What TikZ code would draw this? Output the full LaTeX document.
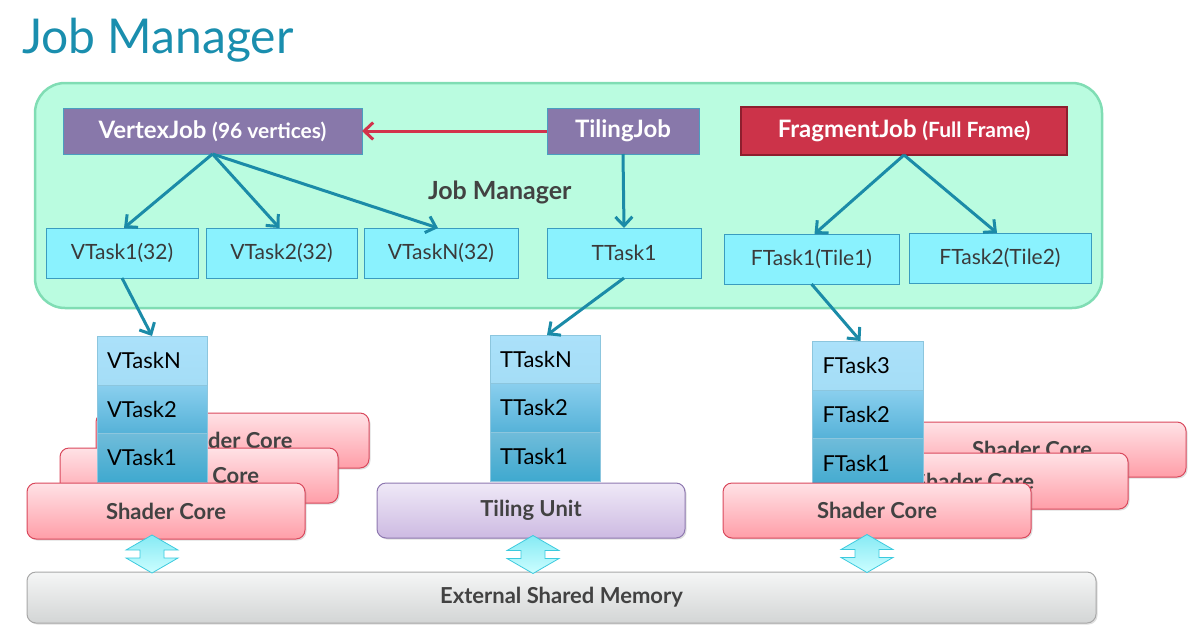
\documentclass[tikz,border=0pt]{standalone}
\usepackage{fontspec}
\setmainfont{Lato}
\usetikzlibrary{arrows.meta,shadows}

\definecolor{titleC}{HTML}{1A8EAE}
\definecolor{greenFill}{HTML}{BAFCE0}
\definecolor{greenBorder}{HTML}{80DDB4}
\definecolor{jobPurple}{HTML}{8878AA}
\definecolor{jobBorder}{HTML}{4A9EC0}
\definecolor{fragRed}{HTML}{CC3349}
\definecolor{fragBorder}{HTML}{8E1E2E}
\definecolor{taskCyan}{HTML}{8AF2FE}
\definecolor{taskBorder}{HTML}{3A9CC0}
\definecolor{taskText}{HTML}{3A3A3A}
\definecolor{labelGray}{HTML}{424242}
\definecolor{flowC}{HTML}{1B8BA8}
\definecolor{redFlow}{HTML}{D2334C}
\definecolor{coreTop}{HTML}{FFE2E6}
\definecolor{coreBot}{HTML}{FF9EA8}
\definecolor{coreBorder}{HTML}{D9485C}
\definecolor{tuTop}{HTML}{EFE9F7}
\definecolor{tuBot}{HTML}{CDBAE2}
\definecolor{tuBorder}{HTML}{8E78B0}
\definecolor{memTop}{HTML}{F5F6F6}
\definecolor{memBot}{HTML}{D3D5D5}
\definecolor{memBorder}{HTML}{A8A8A8}
\definecolor{cellA}{HTML}{ABE1FA}
\definecolor{cellAb}{HTML}{A4DDF6}
\definecolor{cellBt}{HTML}{8ACFEE}
\definecolor{cellBb}{HTML}{56B2D8}
\definecolor{cellCt}{HTML}{70BCDA}
\definecolor{cellCb}{HTML}{3FA9CF}
\definecolor{cellBorder}{HTML}{8CC6DE}
\definecolor{daTop}{HTML}{86EAF4}
\definecolor{daBot}{HTML}{CCFEFF}
\definecolor{daBorder}{HTML}{3CCADE}

\begin{document}
\begin{tikzpicture}[x=1pt,y=-1pt,
  base/.style={inner sep=0pt, outer sep=0pt},
  jobbox/.style={base, fill=jobPurple, draw=jobBorder, line width=0.8pt, text=white, font=\bfseries\fontsize{24}{26}\selectfont},
  taskbox/.style={base, fill=taskCyan, draw=taskBorder, line width=0.8pt, text=taskText, font=\fontsize{21}{23}\selectfont},
  core/.style={base, rounded corners=9pt, top color=coreTop, bottom color=coreBot, draw=coreBorder, line width=1pt, text=labelGray, font=\bfseries\fontsize{22}{24}\selectfont, drop shadow={opacity=0.25, shadow xshift=1.5pt, shadow yshift=-1.5pt}},
  unitbox/.style={base, rounded corners=9pt, top color=tuTop, bottom color=tuBot, draw=tuBorder, line width=1pt, text=labelGray, font=\bfseries\fontsize{22}{24}\selectfont, drop shadow={opacity=0.25, shadow xshift=1.5pt, shadow yshift=-1.5pt}},
  membox/.style={base, rounded corners=9pt, top color=memTop, bottom color=memBot, draw=memBorder, line width=1pt, text=labelGray, font=\bfseries\fontsize{22}{24}\selectfont, drop shadow={opacity=0.25, shadow xshift=1.5pt, shadow yshift=-1.5pt}},
  cell/.style={base, draw=cellBorder, line width=0.6pt, minimum width=110pt, text width=90pt, align=left, text=black, font=\fontsize{22}{24}\selectfont},
  cellN/.style={cell, top color=cellA, bottom color=cellAb},
  cellM/.style={cell, top color=cellBt, bottom color=cellBb},
  cellL/.style={cell, top color=cellCt, bottom color=cellCb},
  flow/.style={draw=flowC, line width=3pt, -{Straight Barb[length=9pt,width=17pt]}},
  redflow/.style={draw=redFlow, line width=3pt, -{Straight Barb[length=9pt,width=17pt]}},
  dblarrow/.style={top color=daTop, bottom color=daBot, draw=daBorder, line width=0.8pt, line join=miter}
]
\useasboundingbox (0,0) rectangle (1193,632);

% title
\node[base, anchor=base west, text=titleC, font=\fontsize{48}{52}\selectfont] (title) at (22,53) {Job Manager};

% job manager container
\node[base, draw=greenBorder, fill=greenFill, line width=2.5pt, rounded corners=30pt, minimum width=1067pt, minimum height=225pt] (jm) at (568.5,195.5) {};

% jobs
\node[jobbox, minimum width=299pt, minimum height=46pt] (vj) at (212.5,131) {VertexJob {\fontsize{21}{23}\selectfont (96 vertices)}};
\node[jobbox, minimum width=152pt, minimum height=46pt] (tj) at (623,131) {TilingJob};
\node[jobbox, fill=fragRed, draw=fragBorder, line width=1.2pt, minimum width=326pt, minimum height=48pt] (fj) at (904,131) {FragmentJob {\fontsize{21}{23}\selectfont (Full Frame)}};

\node[base, anchor=base west, text=labelGray, font=\bfseries\fontsize{25}{27}\selectfont] (jml) at (428,199) {Job Manager};

% tasks
\node[taskbox, minimum width=152pt, minimum height=50pt] (vt1) at (122,253) {VTask1(32)};
\node[taskbox, minimum width=151pt, minimum height=50pt] (vt2) at (281.5,253) {VTask2(32)};
\node[taskbox, minimum width=154pt, minimum height=50pt] (vtn) at (441,253) {VTaskN(32)};
\node[taskbox, minimum width=154pt, minimum height=50pt] (tt1) at (624,253) {TTask1};
\node[taskbox, minimum width=175pt, minimum height=50pt] (ft1) at (811.5,259) {FTask1(Tile1)};
\node[taskbox, minimum width=182pt, minimum height=50pt] (ft2) at (1000,258) {FTask2(Tile2)};

\draw[redflow] (tj.west) -- (vj.east);
\draw[flow] (vj.south) -- ([xshift=2pt]vt1.north);
\draw[flow] (vj.south) -- ([xshift=-2pt]vt2.north);
\draw[flow] (vj.south) -- ([xshift=-3pt]vtn.north);
\draw[flow] (tj.south) -- (tt1.north);
\draw[flow] (fj.south) -- ([xshift=3pt]ft1.north);
\draw[flow] (fj.south) -- ([xshift=-3pt]ft2.north);

% left shader cores + vertex stack
\node[core, minimum width=273pt, minimum height=55pt] (scL3) at (232.5,440.5) {Shader Core};
\node[core, minimum width=278pt, minimum height=55pt] (scL2) at (199,475.5) {Shader Core};
\node[cellN, minimum height=49pt] (vsN) at (152,360.5) {VTaskN};
\node[cellM, minimum height=48pt] (vs2) at (152,409) {VTask2};
\node[cellL, minimum height=49pt] (vs1) at (152,457.5) {VTask1};
\node[core, minimum width=278pt, minimum height=56pt] (scL1) at (166,511) {Shader Core};

% right shader cores + fragment stack
\node[core, minimum width=308pt, minimum height=55pt] (scR3) at (1032,449.5) {Shader Core};
\node[core, minimum width=308pt, minimum height=56pt] (scR2) at (974,481) {Shader Core};
\node[cellN, minimum width=111pt, minimum height=49pt] (fs3) at (867.5,365.5) {FTask3};
\node[cellM, minimum width=111pt, minimum height=48pt] (fs2) at (867.5,414) {FTask2};
\node[cellL, minimum width=111pt, minimum height=51pt] (fs1) at (867.5,463.5) {FTask1};
\node[core, minimum width=308pt, minimum height=55pt] (scR1) at (877,510.5) {Shader Core};

% tiling stack + tiling unit
\node[cellN, minimum height=48pt] (tsN) at (545,359) {TTaskN};
\node[cellM, minimum height=49pt] (ts2) at (545,407.5) {TTask2};
\node[cellL, minimum height=49pt] (ts1) at (545,456.5) {TTask1};
\node[unitbox, minimum width=308pt, minimum height=55pt] (tu) at (531,510.5) {Tiling Unit};

% external memory
\node[membox, minimum width=1069pt, minimum height=51pt] (mem) at (561.5,597.5) {External Shared Memory};

% double block arrows
\foreach \cx/\cy in {152/554, 533/554.5, 867/553.5}{
  \path[dblarrow, shift={(\cx,\cy)}] (0,-19) -- (-26,-4) -- (-12,-4) -- (-12,4) -- (-26,4) -- (0,19) -- (26,4) -- (12,4) -- (12,-4) -- (26,-4) -- cycle;
}

% task to unit arrows
\draw[flow] (vt1.south) -- (vsN.north);
\draw[flow] (tt1.south) -- ([xshift=2pt]tsN.north);
\draw[flow] (ft1.south) -- ([xshift=-7pt]fs3.north);
\end{tikzpicture}
\end{document}
